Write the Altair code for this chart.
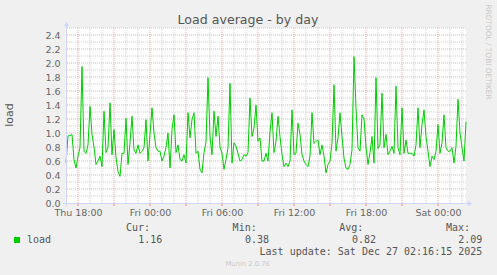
import altair as alt
import pandas as pd

# ---------------- data ----------------
start_time = "2025-12-25 17:00:00"
step = "10min"
load_values = [
    0.57, 0.96, 0.96, 0.98, 0.62, 0.50, 0.67, 0.79, 1.95, 0.74,
    0.71, 0.83, 1.38, 0.98, 0.80, 0.55, 0.60, 0.67, 0.52, 1.31,
    0.72, 0.79, 1.43, 0.69, 1.05, 0.65, 0.45, 0.38, 0.71, 0.71,
    1.21, 0.55, 0.86, 1.24, 0.76, 0.71, 0.83, 0.71, 0.74, 0.79,
    1.19, 0.60, 0.98, 1.36, 1.00, 0.79, 0.74, 0.74, 0.60, 0.67,
    0.79, 1.00, 0.50, 1.05, 1.26, 0.72, 0.83, 0.62, 0.60, 0.69,
    0.57, 1.29, 0.93, 1.19, 1.29, 0.71, 0.74, 0.48, 0.43, 0.72,
    0.87, 1.79, 0.95, 0.69, 1.31, 0.95, 1.24, 0.80, 0.71, 0.48,
    0.62, 0.79, 1.71, 0.57, 0.86, 0.81, 0.71, 0.60, 0.62, 0.69,
    0.67, 0.72, 1.50, 0.95, 1.07, 1.40, 0.88, 0.93, 0.60, 0.60,
    0.71, 0.60, 1.02, 1.29, 0.72, 0.88, 1.24, 0.95, 0.69, 0.52,
    0.57, 0.52, 0.60, 1.33, 0.69, 0.71, 1.14, 0.98, 0.69, 0.60,
    0.55, 0.52, 0.67, 1.29, 0.85, 0.88, 0.90, 0.69, 0.83, 0.67,
    0.43, 0.55, 0.60, 0.86, 1.69, 0.74, 0.93, 1.29, 0.95, 0.64,
    0.50, 0.48, 0.55, 0.76, 2.09, 1.36, 0.79, 0.74, 1.26, 1.20,
    0.80, 0.55, 0.72, 0.95, 0.57, 1.79, 0.78, 0.83, 1.57, 0.79,
    0.98, 0.69, 0.74, 0.81, 0.71, 1.67, 0.79, 0.69, 1.36, 0.71,
    0.90, 0.71, 0.71, 0.71, 0.67, 0.83, 1.36, 0.79, 1.12, 1.33,
    0.95, 0.74, 0.52, 0.67, 0.62, 0.74, 1.12, 0.71, 0.86, 1.26,
    0.79, 0.74, 0.74, 0.79, 0.57, 0.81, 1.48, 1.00, 0.79, 0.60,
    1.16,
]
domain_start = (2025, 12, 25, 17, 0)
domain_end = (2025, 12, 27, 2, 20)
label_times = [(2025, 12, 25, 18, 0), (2025, 12, 26, 0, 0), (2025, 12, 26, 6, 0),
               (2025, 12, 26, 12, 0), (2025, 12, 26, 18, 0), (2025, 12, 27, 0, 0)]
label_format = "%a %H:%M"
y_ticks = [0.0, 0.2, 0.4, 0.6, 0.8, 1.0, 1.2, 1.4, 1.6, 1.8, 2.0, 2.2, 2.4]
y_minor = [0.1, 0.3, 0.5, 0.7, 0.9, 1.1, 1.3, 1.5, 1.7, 1.9, 2.1, 2.3, 2.5]
y_major = [0.2, 0.4, 0.6, 0.8, 1.0, 1.2, 1.4, 1.6, 1.8, 2.0, 2.2, 2.4]
hours_all = pd.date_range("2025-12-25 18:00", "2025-12-27 02:00", freq="1h")
major_hours = [h.strftime("%Y-%m-%dT%H:%M:%SZ") for h in hours_all if h.hour % 3 == 0]
minor_hours = [h.strftime("%Y-%m-%dT%H:%M:%SZ") for h in hours_all if h.hour % 3 != 0]

title_text = "Load average - by day"
y_title = "load"
series_name = "load"
stat_names = ["Cur:", "Min:", "Avg:", "Max:"]
stat_values = ["1.16", "0.38", "0.82", "2.09"]
last_update = "Last update: Sat Dec 27 02:16:15 2025"
side_text = "RRDTOOL / TOBI OETIKER"
footer_text = "Munin 2.0.76"

times = pd.date_range(start_time, periods=len(load_values), freq=step)
df = pd.DataFrame({"time": times.strftime("%Y-%m-%dT%H:%M:%SZ"), "load": load_values})

# ---------------- styles ----------------
W, H = 400, 175
FONT = "DejaVu Sans"
MONO = "DejaVu Sans Mono"
TXT = "#666666"
AXISC = "#CFD6F8"
MINOR = "#CDCDCD"
MAJOR = "#F2A3A3"
GREEN = "#00CC00"


def dt(t):
    return alt.DateTime(year=t[0], month=t[1], date=t[2], hours=t[3], minutes=t[4], utc=True)


xscale = alt.Scale(type="utc", domain=[dt(domain_start), dt(domain_end)])
yscale = alt.Scale(domain=[0, 2.5], nice=False, zero=True)

xaxis = alt.Axis(
    values=[dt(t) for t in label_times], labelExpr=f"utcFormat(datum.value, '{label_format}')",
    title=None, ticks=False, domain=False, grid=False, labelFlush=False, labelOverlap=False,
    labelFont=FONT, labelFontSize=9.5, labelColor=TXT, labelPadding=4)
yaxis = alt.Axis(
    values=y_ticks, format=".1f", title=None, ticks=False, domain=False, grid=False,
    labelOverlap=False, labelFont=FONT, labelFontSize=9.5, labelColor=TXT, labelPadding=6)


def X(field):
    return alt.X(field, scale=xscale, axis=xaxis)


def Y(field):
    return alt.Y(field, scale=yscale, axis=yaxis)


one = pd.DataFrame({"d": [0]})
layers = []

# grid
layers.append(alt.Chart(pd.DataFrame({"time": minor_hours})).mark_rule(
    color=MINOR, strokeDash=[1, 1], strokeWidth=1).encode(x=X("time:T")))
layers.append(alt.Chart(pd.DataFrame({"v": y_minor})).mark_rule(
    color=MINOR, strokeDash=[1, 1], strokeWidth=1).encode(y=Y("v:Q")))
layers.append(alt.Chart(pd.DataFrame({"time": major_hours})).mark_rule(
    color=MAJOR, strokeDash=[1, 1], strokeWidth=1).encode(x=X("time:T")))
layers.append(alt.Chart(pd.DataFrame({"v": y_major})).mark_rule(
    color=MAJOR, strokeDash=[1, 1], strokeWidth=1).encode(y=Y("v:Q")))

# major ticks under x axis
layers.append(alt.Chart(pd.DataFrame({"time": major_hours})).mark_rule(
    color="#F08080", strokeWidth=1).encode(
    x=X("time:T"), y=alt.value(H), y2=alt.value(H + 3)))

# data line
layers.append(alt.Chart(df).mark_line(color=GREEN, strokeWidth=1).encode(
    x=X("time:T"), y=Y("load:Q")))

# axis lines and arrows
layers.append(alt.Chart(one).mark_rule(color=AXISC, strokeWidth=1).encode(
    x=alt.value(-3), x2=alt.value(W + 2), y=alt.value(H + 0.5)))
layers.append(alt.Chart(one).mark_rule(color=AXISC, strokeWidth=1).encode(
    x=alt.value(0.5), y=alt.value(-3), y2=alt.value(H + 3)))
layers.append(alt.Chart(one).mark_point(shape="triangle-right", filled=True, size=28,
                                        color=AXISC, opacity=1).encode(
    x=alt.value(W + 4), y=alt.value(H + 0.5)))
layers.append(alt.Chart(one).mark_point(shape="triangle-up", filled=True, size=28,
                                        color=AXISC, opacity=1).encode(
    x=alt.value(0.5), y=alt.value(-4)))


def text(s, x, y, size, color=TXT, font=FONT, align="left", baseline="alphabetic", angle=0):
    kw = dict(text=s, font=font, fontSize=size, color=color, align=align, baseline=baseline)
    if angle:
        kw["angle"] = angle
    return alt.Chart(one).mark_text(**kw).encode(x=alt.value(x), y=alt.value(y))


layers.append(text(title_text, 182, -4, 12.6, color="#555555", align="center"))
layers.append(text(y_title, -56, 87, 11, color="#555555", align="center",
                   baseline="middle", angle=270))
layers.append(text(side_text, 422, 24, 7.4, color="#C8C8C8", align="center",
                   baseline="middle", angle=90))

# legend
layers.append(alt.Chart(one).mark_square(size=36, color=GREEN, opacity=1, filled=True).encode(
    x=alt.value(-49), y=alt.value(212)))
layers.append(text(series_name, -39, 215, 10, color="#555555", font=MONO))
head_x = [84, 190.7, 297.3, 404]
val_x = [96.3, 203, 310, 416.3]
for i in range(4):
    layers.append(text(stat_names[i], head_x[i], 202.7, 10, color="#555555", font=MONO, align="right"))
    layers.append(text(stat_values[i], val_x[i], 214.7, 10, color="#555555", font=MONO, align="right"))
layers.append(text(last_update, 416.3, 227, 10, color="#555555", font=MONO, align="right"))
layers.append(text(footer_text, 181.7, 238, 6.8, color="#C8C8C8", align="center"))

chart = alt.layer(*layers).properties(
    width=W, height=H,
    autosize=alt.AutoSizeParams(type="none"),
    padding={"left": 66, "top": 28, "right": 31, "bottom": 72},
    background="#F0F0F0",
).configure_view(fill="white", stroke=None)

chart.save("out.html", embed_options={"renderer": "svg", "actions": False})
